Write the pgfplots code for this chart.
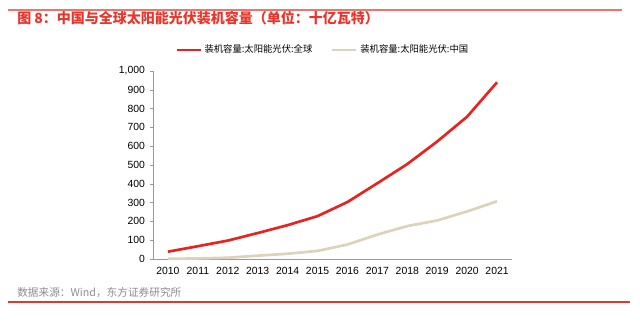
\documentclass[border=0pt]{standalone}
\usepackage{fontspec}
\setmainfont{Liberation Sans}
\newfontfamily\cjk{Noto Sans CJK SC}
\usepackage{pgfplots}
\pgfplotsset{compat=1.18}
\definecolor{mred}{HTML}{E8231F}
\definecolor{mtan}{HTML}{DDD3BD}
\definecolor{tred}{HTML}{E8352B}
\definecolor{srcgray}{HTML}{8C8C8C}
\begin{document}
\begin{tikzpicture}[x=0.75pt,y=0.75pt]
\path (0,0) rectangle (640,325);
\draw[color=tred!70, line width=1pt] (8,315) -- (622,315);
\node[anchor=west, text=tred, inner sep=0pt, font=\cjk\bfseries\fontsize{10.5pt}{12pt}\selectfont] at (17,307) {图 8：中国与全球太阳能光伏装机容量（单位：十亿瓦特）};
\begin{axis}[
  at={(114.75pt,49.5pt)}, anchor=south west,
  scale only axis, width=269.25pt, height=141pt,
  xmin=-0.5, xmax=11.5, ymin=0, ymax=1000,
  axis x line*=bottom, axis y line*=left,
  axis line style={draw=gray!80, -},
  xtick={0,...,11},
  xticklabels={2010,2011,2012,2013,2014,2015,2016,2017,2018,2019,2020,2021},
  major x tick style={draw=none},
  extra x ticks={-0.5,0.5,...,11.5},
  extra x tick labels={},
  extra x tick style={tick align=outside, major tick length=2.5pt, tick style={draw=gray!80}},
  ytick={0,100,...,1000},
  y tick style={draw=gray!80},
  tick align=outside, major tick length=2.5pt,
  /pgf/number format/assume math mode=true,
  /pgf/number format/1000 sep={,},
  tick label style={font=\fontsize{7.8pt}{9pt}\selectfont},
  legend style={at={(0.061,1.112)}, anchor=west, draw=none, fill=none,
    font=\cjk\fontsize{7pt}{8pt}\selectfont, inner sep=0pt,
    /tikz/every even column/.append style={column sep=12pt}},
  legend columns=2,
  legend cell align=left,
  legend image code/.code={\draw[#1] (0pt,0pt) -- (18pt,0pt);},
  clip=false,
]
\addplot[mred, line width=2pt, line join=round] coordinates {
(0,39) (1,68) (2,98) (3,138) (4,180) (5,228) (6,303) (7,403) (8,505) (9,625) (10,757) (11,940)};
\addlegendentry{装机容量:太阳能光伏:全球}
\addplot[mtan, line width=2pt, line join=round] coordinates {
(0,1) (1,3) (2,6.7) (3,17.7) (4,28) (5,43) (6,77) (7,130) (8,175) (9,205) (10,253) (11,307)};
\addlegendentry{装机容量:太阳能光伏:中国}
\end{axis}
\node[anchor=west, text=srcgray, inner sep=0pt, font=\cjk\fontsize{8pt}{9pt}\selectfont] at (17,32) {数据来源：Wind，东方证券研究所};
\draw[color=tred, line width=1pt] (8,23) -- (630,23);
\end{tikzpicture}
\end{document}
